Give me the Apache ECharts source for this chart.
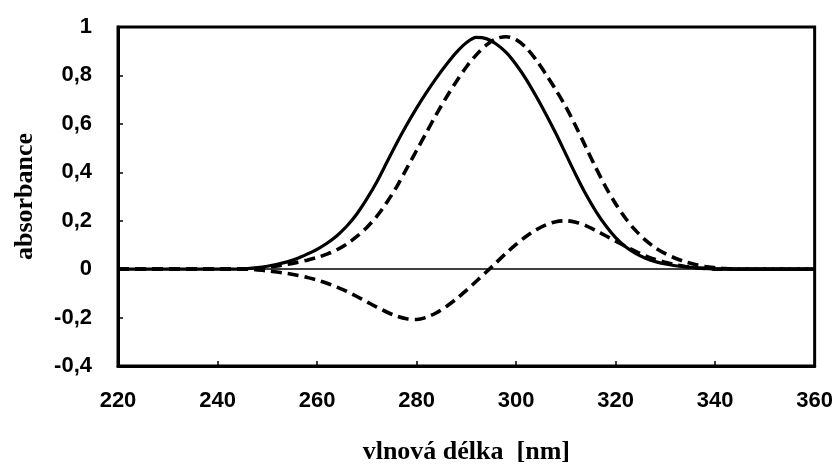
<!DOCTYPE html>
<html>
<head>
<meta charset="utf-8">
<script src="https://cdn.jsdelivr.net/npm/echarts@6/dist/echarts.min.js"></script>
<style>
  html, body { margin: 0; padding: 0; background: #fff; }
  #chart { width: 836px; height: 470px; }
</style>
</head>
<body>
<div id="chart"></div>
<script>
// Wavelength grid [nm]
const wavelengths = [
  220, 222, 224, 226, 228, 230, 232, 234, 236, 238,
  240, 242, 244, 246, 248, 250, 252, 254, 256, 258,
  260, 262, 264, 266, 268, 270, 272, 274, 276, 278,
  280, 282, 284, 286, 288, 290, 292, 294, 296, 298,
  300, 302, 304, 306, 308, 310, 312, 314, 316, 318,
  320, 322, 324, 326, 328, 330, 332, 334, 336, 338,
  340, 342, 344, 346, 348, 350, 352, 354, 356, 358,
  360
];

// Absorption band (solid)
const bandA = [
  0, 0, 0, 0, 0, 0, 0, 0, 0, 0,
  0, 0, 0, 0.002, 0.006, 0.012, 0.02, 0.03, 0.044, 0.062,
  0.082, 0.107, 0.138, 0.178, 0.228, 0.29, 0.36, 0.44, 0.52, 0.595,
  0.665, 0.73, 0.79, 0.845, 0.895, 0.935, 0.957, 0.952, 0.93, 0.895,
  0.845, 0.785, 0.715, 0.64, 0.56, 0.475, 0.39, 0.31, 0.24, 0.18,
  0.13, 0.092, 0.065, 0.045, 0.031, 0.021, 0.014, 0.009, 0.005, 0.003,
  0.001, 0, 0, 0, 0, 0, 0, 0, 0, 0,
  0
];

// Shifted absorption band (dashed)
const bandB = [
  0, 0, 0, 0, 0, 0, 0, 0, 0, 0,
  0, 0, 0, 0.001, 0.004, 0.008, 0.013, 0.02, 0.028, 0.037,
  0.048, 0.062, 0.08, 0.104, 0.135, 0.172, 0.218, 0.275, 0.34, 0.415,
  0.49, 0.565, 0.64, 0.71, 0.775, 0.835, 0.885, 0.925, 0.952, 0.96,
  0.948, 0.915, 0.865, 0.805, 0.74, 0.67, 0.59, 0.505, 0.42, 0.34,
  0.27, 0.21, 0.16, 0.12, 0.088, 0.064, 0.045, 0.03, 0.019, 0.011,
  0.006, 0.002, 0, 0, 0, 0, 0, 0, 0, 0,
  0
];

// Difference spectrum (dashed, crosses zero)
const difference = [
  0, 0, 0, 0, 0, 0, 0, 0, 0, 0,
  0, 0, 0, 0, -0.003, -0.007, -0.012, -0.018, -0.025, -0.034,
  -0.045, -0.058, -0.074, -0.092, -0.113, -0.135, -0.157, -0.177, -0.194, -0.205,
  -0.208, -0.199, -0.18, -0.154, -0.123, -0.088, -0.05, -0.012, 0.027, 0.066,
  0.102, 0.135, 0.162, 0.183, 0.196, 0.2, 0.194, 0.18, 0.16, 0.138,
  0.116, 0.094, 0.073, 0.055, 0.04, 0.028, 0.018, 0.011, 0.006, 0.003,
  0, 0, 0, 0, 0, 0, 0, 0, 0, 0,
  0
];

const xMin = 220, xMax = 360, xStep = 20;
const yMin = -0.4, yMax = 1, yStep = 0.2;

const pairs = arr => wavelengths.map((w, i) => [w, arr[i]]);

const tickFont = {
  fontFamily: 'Liberation Sans',
  fontWeight: 'bold',
  fontSize: 22,
  color: '#000'
};
const nameFont = {
  fontFamily: 'Liberation Serif',
  fontWeight: 'bold',
  fontSize: 26,
  color: '#000'
};

const chart = echarts.init(document.getElementById('chart'), null, { renderer: 'canvas' });

const curveBase = {
  type: 'line',
  smooth: 0.3,
  showSymbol: false
};

chart.setOption({
  animation: false,
  backgroundColor: '#fff',
  grid: {
    left: 118, right: 7, top: 27, bottom: 93,
    show: true, borderColor: '#000', borderWidth: 3, backgroundColor: 'transparent'
  },
  xAxis: {
    type: 'value',
    min: xMin, max: xMax, interval: xStep,
    name: 'vlnová délka  [nm]',
    nameLocation: 'middle',
    nameGap: 73,
    nameTextStyle: nameFont,
    axisLine: { show: true, onZero: false, lineStyle: { color: '#000', width: 3 } },
    axisTick: { show: true, inside: true, length: 5, lineStyle: { color: '#000', width: 1.5 } },
    axisLabel: Object.assign({ margin: 24 }, tickFont),
    splitLine: { show: false }
  },
  yAxis: {
    type: 'value',
    min: yMin, max: yMax, interval: yStep,
    name: 'absorbance',
    nameLocation: 'middle',
    nameGap: 80,
    nameTextStyle: nameFont,
    axisLine: { show: true, onZero: false, lineStyle: { color: '#000', width: 3 } },
    axisTick: { show: true, inside: true, length: 5, lineStyle: { color: '#000', width: 1.5 } },
    axisLabel: Object.assign({
      margin: 26,
      formatter: v => String(Math.round(v * 10) / 10).replace('.', ',')
    }, tickFont),
    splitLine: { show: false }
  },
  series: [
    Object.assign({}, curveBase, {
      name: 'A',
      data: pairs(bandA),
      lineStyle: { color: '#000', width: 3.2, type: 'solid' },
      markLine: {
        silent: true,
        symbol: 'none',
        label: { show: false },
        lineStyle: { color: '#000', width: 1.5, type: 'solid' },
        data: [{ yAxis: 0 }]
      },
      z: 3
    }),
    Object.assign({}, curveBase, {
      name: 'B',
      data: pairs(bandB),
      lineStyle: { color: '#000', width: 3.6, type: [11, 6] },
      z: 4
    }),
    Object.assign({}, curveBase, {
      name: 'B - A',
      data: pairs(difference),
      lineStyle: { color: '#000', width: 3.6, type: [11, 6] },
      z: 4
    })
  ]
});
</script>
</body>
</html>
